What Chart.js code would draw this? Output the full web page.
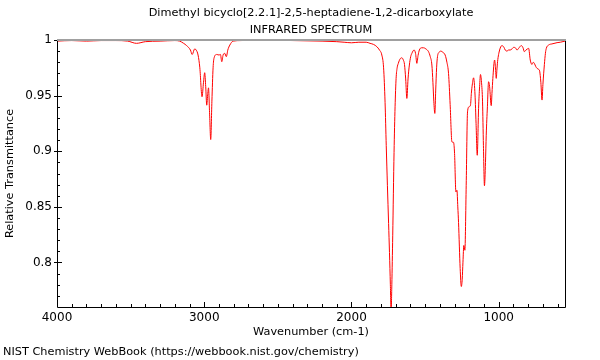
<!DOCTYPE html>
<html>
<head>
<meta charset="utf-8">
<script src="https://cdn.jsdelivr.net/npm/chart.js@4/dist/chart.umd.min.js"></script>
<style>
html,body{margin:0;padding:0;background:#fff;}
#c{display:block;}
</style>
</head>
<body>
<canvas id="c" width="600" height="360"></canvas>
<script>
const titleLines = ['Dimethyl bicyclo[2.2.1]-2,5-heptadiene-1,2-dicarboxylate', 'INFRARED SPECTRUM'];
const footerText = 'NIST Chemistry WebBook (https://webbook.nist.gov/chemistry)';
const xTitle = 'Wavenumber (cm-1)';
const yTitle = 'Relative Transmittance';

const xTickValues = [4000, 3000, 2000, 1000];
const yTickValues = [0.8, 0.85, 0.9, 0.95, 1];

const wavenumbers = [
  4000, 3900, 3800, 3700, 3600, 3520, 3460, 3400, 3300, 3200,
  3167, 3140, 3120, 3094, 3082, 3065, 3055, 3042, 3030, 3015,
  3005, 2997, 2990, 2983, 2976, 2971, 2964, 2956, 2948, 2940,
  2933, 2915, 2900, 2890, 2881, 2872, 2861, 2850, 2840, 2826,
  2804, 2750, 2600, 2400, 2200, 2100, 2050, 2000, 1950, 1900,
  1874, 1850, 1828, 1810, 1794, 1782, 1772, 1764, 1756, 1748,
  1742, 1736, 1731, 1726, 1720, 1711, 1704, 1697, 1690, 1682,
  1670, 1658, 1648, 1640, 1632, 1624, 1616, 1607, 1598, 1590,
  1575, 1565, 1556, 1548, 1539, 1525, 1511, 1495, 1477, 1465,
  1454, 1447, 1441, 1434, 1428, 1422, 1416, 1405, 1393, 1380,
  1364, 1352, 1341, 1330, 1318, 1307, 1300, 1291, 1284, 1278,
  1273, 1262, 1254, 1248, 1243, 1237, 1230, 1221, 1212, 1201,
  1192, 1186, 1180, 1171, 1161, 1154, 1146, 1137, 1130, 1124,
  1117, 1110, 1104, 1097, 1090, 1085, 1077, 1069, 1062, 1051,
  1046, 1040, 1028, 1022, 1017, 1012, 1008, 994, 978, 965,
  956, 944, 933, 922, 910, 899, 887, 876, 862, 847,
  835, 826, 815, 805, 797, 786, 774, 765, 758, 748,
  740, 729, 722, 714, 706, 700, 690, 683, 677, 661,
  638, 604, 582, 550
];

const transmittance = [
  0.999, 0.9995, 0.999, 0.9995, 0.9995, 0.999, 0.997, 0.9985, 0.999, 0.9995,
  0.999, 0.997, 0.995, 0.991, 0.987, 0.992, 0.991, 0.9865, 0.975, 0.949,
  0.962, 0.9706, 0.958, 0.9414, 0.952, 0.957, 0.935, 0.9105, 0.945, 0.975,
  0.984, 0.987, 0.9865, 0.987, 0.9805, 0.9865, 0.988, 0.985, 0.991, 0.9955,
  0.999, 0.9995, 1.0, 0.9995, 0.999, 0.9985, 0.998, 0.9975, 0.998, 0.998,
  0.997, 0.996, 0.994, 0.991, 0.9865, 0.975, 0.944, 0.905, 0.869, 0.835,
  0.809, 0.78, 0.755, 0.78, 0.824, 0.899, 0.94, 0.9655, 0.975, 0.979,
  0.983, 0.984, 0.982, 0.978, 0.965, 0.9475, 0.965, 0.9775, 0.985, 0.988,
  0.991, 0.988, 0.979, 0.986, 0.991, 0.993, 0.993, 0.992, 0.9895, 0.985,
  0.9775, 0.962, 0.945, 0.934, 0.955, 0.975, 0.985, 0.989, 0.990, 0.989,
  0.9865, 0.98, 0.97, 0.942, 0.9084, 0.908, 0.898, 0.8634, 0.865, 0.85,
  0.836, 0.7946, 0.7784, 0.785, 0.8003, 0.8153, 0.811, 0.8694, 0.9354, 0.94,
  0.9414, 0.952, 0.9595, 0.966, 0.9505, 0.925, 0.8964, 0.9385, 0.958, 0.969,
  0.962, 0.9444, 0.905, 0.869, 0.89, 0.9144, 0.94, 0.9625, 0.958, 0.941,
  0.952, 0.9655, 0.982, 0.975, 0.9655, 0.974, 0.9805, 0.991, 0.995, 0.9935,
  0.991, 0.990, 0.991, 0.991, 0.992, 0.9934, 0.993, 0.991, 0.993, 0.995,
  0.993, 0.9895, 0.991, 0.992, 0.9925, 0.982, 0.978, 0.98, 0.979, 0.976,
  0.9745, 0.9736, 0.972, 0.962, 0.946, 0.96, 0.978, 0.988, 0.9925, 0.9955,
  0.9965, 0.9976, 0.998, 0.999
];

const FONT = 'DejaVu Sans';
const TEXT_SIZE = 11.3;
Chart.defaults.font.family = FONT;
Chart.defaults.font.size = 12;
Chart.defaults.color = '#000';

const framePlugin = {
  id: 'frame',
  afterDatasetsDraw(chart) {
    const ctx = chart.ctx;
    const a = chart.chartArea;
    const xs = chart.scales.x, ys = chart.scales.y;
    ctx.save();
    ctx.strokeStyle = '#000';
    ctx.lineWidth = 1;
    ctx.beginPath();
    for (let v = 600; v <= 4000; v += 100) {
      const px = Math.round(xs.getPixelForValue(v)) + 0.5;
      const major = v % 1000 === 0;
      ctx.moveTo(px, a.bottom);
      ctx.lineTo(px, a.bottom - (major ? 5 : 3));
    }
    for (let k = 77; k <= 100; k++) {
      const v = k / 100;
      const py = Math.round(ys.getPixelForValue(v)) + 0.5;
      const major = k % 5 === 0;
      ctx.moveTo(a.left - (major ? 3 : 0), py);
      ctx.lineTo(a.left + (major ? 5 : 3), py);
    }
    ctx.stroke();
    ctx.beginPath();
    ctx.moveTo(a.left + 0.5, a.top);
    ctx.lineTo(a.left + 0.5, a.bottom + 0.5);
    ctx.lineTo(a.right + 0.5, a.bottom + 0.5);
    ctx.lineTo(a.right + 0.5, a.top);
    ctx.stroke();
    ctx.strokeStyle = '#a0a0a0';
    ctx.lineWidth = 2;
    ctx.beginPath();
    ctx.moveTo(a.left, a.top);
    ctx.lineTo(a.right + 1, a.top);
    ctx.stroke();
    ctx.restore();
  },
  afterDraw(chart) {
    const ctx = chart.ctx;
    const a = chart.chartArea;
    ctx.save();
    ctx.font = TEXT_SIZE + 'px "' + FONT + '"';
    ctx.fillStyle = '#000';
    ctx.textBaseline = 'middle';
    ctx.textAlign = 'center';
    const cx = (a.left + a.right) / 2;
    ctx.fillText(titleLines[0], cx, 13);
    ctx.fillText(titleLines[1], cx, 30);
    ctx.textAlign = 'left';
    ctx.fillText(footerText, 3, 352);
    ctx.restore();
  }
};

new Chart(document.getElementById('c'), {
  type: 'line',
  data: {
    datasets: [{
      data: wavenumbers.map((w, i) => ({ x: w, y: transmittance[i] })),
      borderColor: '#ff0000',
      borderWidth: 1,
      pointRadius: 0,
      fill: false,
      cubicInterpolationMode: 'monotone'
    }]
  },
  options: {
    responsive: false,
    animation: false,
    devicePixelRatio: 1,
    layout: { padding: { top: 40, right: 35, left: 0, bottom: 0 } },
    plugins: { legend: { display: false }, tooltip: { enabled: false }, title: { display: false } },
    scales: {
      x: {
        type: 'linear',
        reverse: true,
        min: 550,
        max: 4000,
        grid: { display: false, drawTicks: false },
        border: { display: false },
        afterBuildTicks(s) { s.ticks = xTickValues.map(v => ({ value: v })); },
        afterFit(s) { s.height = 53; },
        ticks: { padding: 4, maxRotation: 0, autoSkip: false, color: '#000', font: { size: 12 }, callback: v => String(v) },
        title: { display: true, text: xTitle, color: '#000', font: { size: TEXT_SIZE }, padding: { top: 0, bottom: 21 } }
      },
      y: {
        type: 'linear',
        min: 0.76,
        max: 1,
        grid: { display: false, drawTicks: false },
        border: { display: false },
        afterBuildTicks(s) { s.ticks = yTickValues.map(v => ({ value: v })); },
        afterFit(s) { s.width = 57; },
        ticks: { padding: 5, autoSkip: false, color: '#000', font: { size: 12 }, callback: v => String(v) },
        title: { display: true, text: yTitle, color: '#000', font: { size: TEXT_SIZE }, padding: { top: 3, bottom: 0 } }
      }
    }
  },
  plugins: [framePlugin]
});
</script>
</body>
</html>
